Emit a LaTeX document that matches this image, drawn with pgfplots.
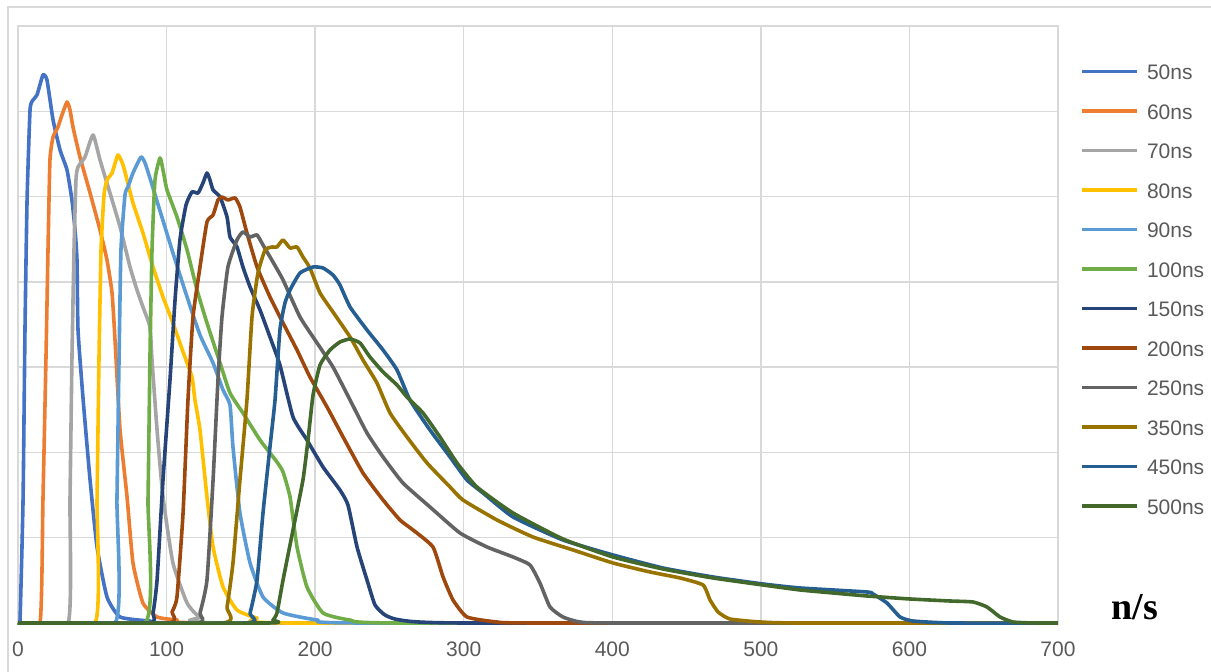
\documentclass[border=0pt]{standalone}
\usepackage{pgfplots}
\pgfplotsset{compat=1.18}
\usepackage{fontspec}
\setmainfont{Liberation Sans}
\newfontfamily\serifbold{Liberation Serif}

\definecolor{tc}{HTML}{595959}
\definecolor{gridc}{HTML}{D9D9D9}
\definecolor{c50}{HTML}{4472C4}
\definecolor{c60}{HTML}{ED7D31}
\definecolor{c70}{HTML}{A5A5A5}
\definecolor{c80}{HTML}{FFC000}
\definecolor{c90}{HTML}{5B9BD5}
\definecolor{c100}{HTML}{70AD47}
\definecolor{c150}{HTML}{264478}
\definecolor{c200}{HTML}{9E480E}
\definecolor{c250}{HTML}{636363}
\definecolor{c350}{HTML}{997300}
\definecolor{c450}{HTML}{255E91}
\definecolor{c500}{HTML}{43682B}

\begin{document}
\begin{tikzpicture}
\useasboundingbox (0,0) rectangle (605.5pt,336pt);
% outer chart frame
\draw[gridc, line width=0.6pt] (4pt,0pt) -- (4pt,332.5pt) -- (606pt,332.5pt);
\begin{axis}[
    at={(9pt,23.6pt)}, anchor=south west,
    width=520pt, height=299.4pt, scale only axis,
    xmin=0, xmax=700, ymin=-1.8, ymax=597,
    xtick distance=100, ytick={0,85.2857,...,597},
    yticklabels={}, major tick length=0pt,
    grid=major, grid style={gridc, line width=0.7pt},
    axis line style={gridc, line width=0.7pt},
    tick label style={font=\fontsize{10.5}{12}\selectfont, text=tc},
    xticklabel style={yshift=-5.1pt},
    /pgf/number format/assume math mode=true,
    every axis plot/.append style={line width=1.8pt, line join=round, smooth, tension=0.3},
    legend image code/.code={\draw[#1, line width=1.8pt, sharp plot] (0pt,0pt) -- (27.5pt,0pt); \path (31.5pt,0pt);},
    legend cell align=left,
    legend style={at={(axis description cs:1.0212,0.9377)}, anchor=north west,
        draw=none, fill=none, font=\fontsize{10.5}{12}\selectfont, text=tc,
        inner sep=0pt, row sep=11.75pt,
        nodes={inner sep=0pt, text height=8pt, text depth=0pt}},
]
\addplot[c50] coordinates {(0,0)(1.3,0)(3.4,123)(4.7,293)(6.1,423)(8.1,513)(10.1,523)(12.8,528)(16.8,548)(19.5,543)(23.6,503)(28.3,473)(33,453)(36.3,423)(38.4,393)(39.7,363)(40.4,293)(43.7,226)(48.5,143)(53.2,76)(59.9,26)(68.7,6)(88.8,2)(122.5,0)(700,0)};
\addlegendentry{50ns}
\addplot[c60] coordinates {(0,0)(14.8,0)(16.8,123)(18.8,263)(20.2,373)(21.5,463)(23.6,486)(26.9,496)(29.6,508)(33,521)(35,513)(37,496)(41.7,466)(48.5,430)(55.2,393)(59.9,363)(63.3,330)(65.3,283)(68.7,193)(73.4,126)(77.4,60)(84.1,20)(93.6,6)(107,3)(136,0)(700,0)};
\addlegendentry{60ns}
\addplot[c70] coordinates {(0,0)(33.7,0)(35,123)(36.3,263)(37.7,373)(39,443)(40.4,456)(45.1,466)(50.5,488)(55.2,463)(61.9,430)(68.7,396)(75.4,356)(80.1,333)(84.1,316)(88.8,296)(90.2,263)(93.6,193)(97.6,126)(104.3,60)(113.8,20)(122.5,6)(142.7,0)(700,0)};
\addlegendentry{70ns}
\addplot[c80] coordinates {(0,0)(51.8,0)(53.2,123)(54.5,263)(55.9,373)(57.9,428)(59.9,443)(63.3,450)(67.3,468)(70.7,458)(73.4,443)(77.4,420)(84.1,390)(90.9,356)(97.6,326)(104.3,300)(111.1,271)(117.1,246)(119.1,223)(122.5,193)(127.2,126)(131.3,76)(138,36)(147.4,13)(160.9,5)(183.1,0)(700,0)};
\addlegendentry{80ns}
\addplot[c90] coordinates {(0,0)(65.3,0)(66.6,123)(68,263)(69.3,373)(72,428)(74,436)(77.4,450)(82.8,466)(85.5,460)(88.8,445)(95.6,412)(104.3,370)(113.8,326)(122.5,288)(131.3,260)(138,233)(142.7,218)(144.7,176)(149.4,110)(156.2,60)(164.9,26)(178.4,10)(201.3,3)(230.2,0)(700,0)};
\addlegendentry{90ns}
\addplot[c100] coordinates {(0,0)(85.5,0)(87.5,123)(88.8,263)(90.2,373)(92.2,443)(95.6,465)(97.6,453)(100.3,433)(107,406)(113.8,373)(120.5,333)(127.2,300)(136,260)(142.7,230)(151.4,210)(162.9,183)(174.3,161)(178.4,151)(183.1,126)(187.8,76)(194.5,36)(205.3,10)(223.5,3)(257.1,0)(700,0)};
\addlegendentry{100ns}
\addplot[c150] coordinates {(0,0)(87.5,0)(90.9,10)(93.6,43)(97.6,143)(102.3,243)(105.7,323)(109,383)(113.1,418)(117.1,431)(121.2,430)(124.5,440)(127.2,450)(129.2,443)(131.3,433)(136,426)(140.7,406)(142.7,386)(147.4,376)(151.4,356)(156.2,336)(162.9,313)(169.6,286)(176.3,258)(185.1,206)(194.5,183)(205.3,156)(216.7,133)(222.1,118)(228.2,76)(234.9,43)(240.3,18)(247,8)(257.1,3)(299.5,0)(700,0)};
\addlegendentry{150ns}
\addplot[c200] coordinates {(0,0)(101,0)(103.7,11)(107,26)(111.1,110)(114.4,223)(117.8,306)(122.5,356)(127.2,401)(131.3,408)(134.6,423)(137.3,426)(141.3,423)(146.1,425)(149.4,416)(154.1,390)(160.9,356)(169.6,326)(178.4,300)(187.8,273)(196.5,246)(208,216)(218.8,186)(232.2,150)(245.7,123)(257.1,103)(265.9,93)(279.3,76)(286.1,46)(292.8,23)(302.2,6)(322.4,1)(351.3,0)(700,0)};
\addlegendentry{200ns}
\addplot[c250] coordinates {(0,0)(119.1,0)(122.5,10)(127.2,43)(131.3,143)(134.6,243)(137.3,306)(141.3,356)(147.4,383)(151.4,391)(156.2,386)(160.9,388)(164.9,378)(171.6,361)(178.4,343)(189.8,306)(201.3,280)(212,256)(223.5,223)(234.9,190)(245.7,166)(259.1,140)(277.3,116)(297.5,90)(315.7,76)(333.2,66)(344.6,58)(351.3,40)(358.1,16)(366.8,6)(378.3,1)(405.2,0)(700,0)};
\addlegendentry{250ns}
\addplot[c350] coordinates {(0,0)(137.3,0)(140.7,16)(144.7,60)(149.4,143)(154.1,223)(157.5,306)(161.5,350)(166.3,373)(171,376)(174.3,376)(178.4,383)(183.1,375)(187.8,376)(191.8,366)(196.5,355)(203.3,330)(212,311)(223.5,286)(232.2,263)(241.6,240)(250.4,210)(261.8,186)(275.3,160)(290.8,136)(299.5,123)(322.4,103)(346.6,86)(373.6,73)(400.5,60)(425.4,51)(445.6,45)(461.1,38)(465.8,23)(471.2,11)(479.2,4)(499.4,1)(526.4,0)(700,0)};
\addlegendentry{350ns}
\addplot[c450] coordinates {(0,0)(152.8,0)(156.2,10)(160.9,43)(164.9,110)(169.6,176)(173,223)(176.3,293)(179.7,320)(183.1,333)(189.8,350)(198.6,356)(205.3,355)(212,348)(216.7,338)(223.5,316)(234.9,293)(245.7,273)(255.1,253)(263.8,223)(277.3,193)(290.8,166)(302.2,143)(313,130)(333.2,106)(366.8,83)(400.5,68)(434.1,55)(467.8,46)(501.4,39)(526.4,35)(571.4,31)(575.5,29)(584.9,20)(593.7,6)(602.4,2)(627.3,0)(700,0)};
\addlegendentry{450ns}
\addplot[c500] coordinates {(0,0)(168.3,0)(171.6,3)(174.3,10)(178.4,43)(185.1,93)(191.8,143)(195.2,183)(198.6,228)(203.3,258)(210,273)(216.7,281)(223.5,284)(230.2,280)(236.9,266)(245.7,251)(255.1,238)(261.8,226)(272.6,210)(284,186)(295.5,160)(308.9,136)(333.2,110)(366.8,84)(400.5,66)(434.1,54)(467.8,45)(501.4,38)(526.4,33)(548.6,30)(571.4,27)(600.4,24)(627.3,22)(642.8,21)(652.2,16)(661,6)(669.7,1)(683.2,0)(700,0)};
\addlegendentry{500ns}
\end{axis}
\node[font=\serifbold\bfseries\fontsize{19}{22}\selectfont] at (567.5pt,32.5pt) {n/s};
\end{tikzpicture}
\end{document}
